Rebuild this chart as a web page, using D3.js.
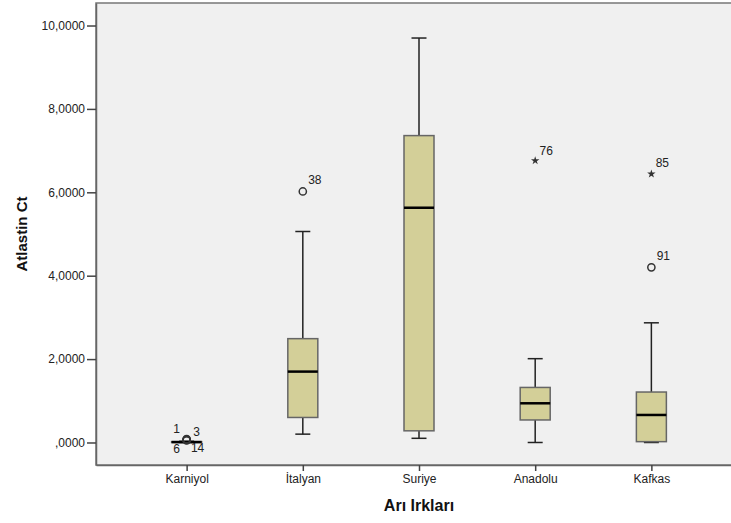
<!DOCTYPE html>
<html>
<head>
<meta charset="utf-8">
<script src="https://cdn.jsdelivr.net/npm/d3@7"></script>
<style>
  body { margin: 0; background: #fff; }
  svg { display: block; font-family: "Liberation Sans", Arial, sans-serif; }
</style>
</head>
<body>
<div id="chart"></div>
<script>
// Box plot statistics
const categories = ["Karniyol", "İtalyan", "Suriye", "Anadolu", "Kafkas"];
const whiskerLow = [0.00, 0.20, 0.10, 0.00, 0.00];
const q1         = [0.00, 0.60, 0.28, 0.54, 0.02];
const median     = [0.01, 1.70, 5.63, 0.94, 0.66];
const q3         = [0.02, 2.49, 7.36, 1.32, 1.21];
const whiskerHigh= [0.03, 5.06, 9.70, 2.01, 2.87];

// outliers: category, case number, value, kind (circle = outlier, star = extreme)
const outliers = [
    { cat: "Karniyol", id: "1", value: 0.08, kind: "circle" },
    { cat: "Karniyol", id: "3", value: 0.07, kind: "circle" },
    { cat: "Karniyol", id: "6", value: 0.05, kind: "circle" },
    { cat: "Karniyol", id: "14", value: 0.06, kind: "circle" },
    { cat: "İtalyan", id: "38", value: 6.02, kind: "circle" },
    { cat: "Anadolu", id: "76", value: 6.76, kind: "star" },
    { cat: "Kafkas", id: "85", value: 6.44, kind: "star" },
    { cat: "Kafkas", id: "91", value: 4.20, kind: "circle" }
];

const yTicks = [0, 2, 4, 6, 8, 10];

// label placement around each outlier mark
const labelOffsets = {
    "1": [-10, -10], "3": [10, -8], "6": [-10, 9], "14": [11, 8],
    "38": [12, -11], "76": [11, -10], "85": [11, -11], "91": [12, -11]
};

const width = 731, height = 523;
const plot = { left: 96, right: 742, top: 3, bottom: 465 };

const svg = d3.select("#chart").append("svg")
    .attr("width", width)
    .attr("height", height);

const x = d3.scalePoint()
    .domain(categories)
    .range([plot.left, plot.right])
    .padding(0.78);

const y = d3.scaleLinear()
    .domain([-0.54, 10.54])
    .range([plot.bottom, plot.top]);

const fmt = v => {
    const s = d3.format(".4f")(v).replace(".", ",");
    return s.startsWith("0,") ? s.slice(1) : s;
};

// plot background
svg.append("rect")
    .attr("x", plot.left)
    .attr("y", plot.top)
    .attr("width", plot.right - plot.left)
    .attr("height", plot.bottom - plot.top)
    .attr("fill", "#f0f0f0")
    .attr("stroke", "#777")
    .attr("stroke-width", 1.5);

// axes
const yAxis = svg.append("g")
    .attr("transform", `translate(${plot.left},0)`)
    .call(d3.axisLeft(y).tickValues(yTicks).tickFormat(fmt)
        .tickSizeInner(9).tickSizeOuter(0).tickPadding(2));

const xAxis = svg.append("g")
    .attr("transform", `translate(0,${plot.bottom})`)
    .call(d3.axisBottom(x).tickSizeInner(6).tickSizeOuter(0).tickPadding(3));

[yAxis, xAxis].forEach(g => {
    g.select(".domain").attr("stroke", "#666").attr("stroke-width", 1.5);
    g.selectAll(".tick line").attr("stroke", "#444").attr("stroke-width", 1.5);
    g.selectAll(".tick text")
        .attr("fill", "#222")
        .style("font-size", "12px")
        .style("font-family", "'Liberation Sans', Arial, sans-serif");
});

// boxes
const boxW = 30, capW = 15;
const stats = categories.map((c, i) => ({
    cat: c, lo: whiskerLow[i], q1: q1[i], med: median[i], q3: q3[i], hi: whiskerHigh[i]
}));

const box = svg.append("g").selectAll("g")
    .data(stats)
    .join("g")
    .attr("transform", d => `translate(${x(d.cat)},0)`);

// whiskers
box.append("line")
    .attr("x1", 0).attr("x2", 0)
    .attr("y1", d => y(d.hi)).attr("y2", d => y(d.q3))
    .attr("stroke", "#222").attr("stroke-width", 1.5);
box.append("line")
    .attr("x1", 0).attr("x2", 0)
    .attr("y1", d => y(d.q1)).attr("y2", d => y(d.lo))
    .attr("stroke", "#222").attr("stroke-width", 1.5);
box.selectAll(".cap")
    .data(d => [d.hi, d.lo])
    .join("line")
    .attr("class", "cap")
    .attr("x1", -capW / 2).attr("x2", capW / 2)
    .attr("y1", v => y(v)).attr("y2", v => y(v))
    .attr("stroke", "#222").attr("stroke-width", 1.5);

box.append("rect")
    .attr("x", -boxW / 2)
    .attr("width", boxW)
    .attr("y", d => y(d.q3))
    .attr("height", d => Math.max(0, y(d.q1) - y(d.q3)))
    .attr("fill", "#d3cf98")
    .attr("stroke", "#666")
    .attr("stroke-width", 1.5);

box.append("line")
    .attr("x1", -boxW / 2).attr("x2", boxW / 2)
    .attr("y1", d => y(d.med)).attr("y2", d => y(d.med))
    .attr("stroke", "#000").attr("stroke-width", 2.5);

// outliers
const out = svg.append("g").selectAll("g")
    .data(outliers)
    .join("g")
    .attr("transform", d => `translate(${x(d.cat)},${y(d.value)})`);

out.filter(d => d.kind === "circle").append("circle")
    .attr("r", 3.6)
    .attr("fill", "none")
    .attr("stroke", "#333")
    .attr("stroke-width", 1.5);

out.filter(d => d.kind === "star").append("path")
    .attr("d", d3.symbol(d3.symbolStar, 22))
    .attr("fill", "#333");

out.append("text")
    .attr("x", d => labelOffsets[d.id][0])
    .attr("y", d => labelOffsets[d.id][1])
    .attr("text-anchor", "middle")
    .attr("dominant-baseline", "central")
    .attr("fill", "#222")
    .style("font-size", "12px")
    .text(d => d.id);

// axis titles
svg.append("text")
    .attr("transform", `translate(27,${(plot.top + plot.bottom) / 2}) rotate(-90)`)
    .attr("text-anchor", "middle")
    .style("font-size", "15px")
    .style("font-weight", "bold")
    .attr("fill", "#111")
    .text("Atlastin Ct");

svg.append("text")
    .attr("x", (plot.left + plot.right) / 2)
    .attr("y", 511)
    .attr("text-anchor", "middle")
    .style("font-size", "16px")
    .style("font-weight", "bold")
    .attr("fill", "#111")
    .text("Arı Irkları");
</script>
</body>
</html>
